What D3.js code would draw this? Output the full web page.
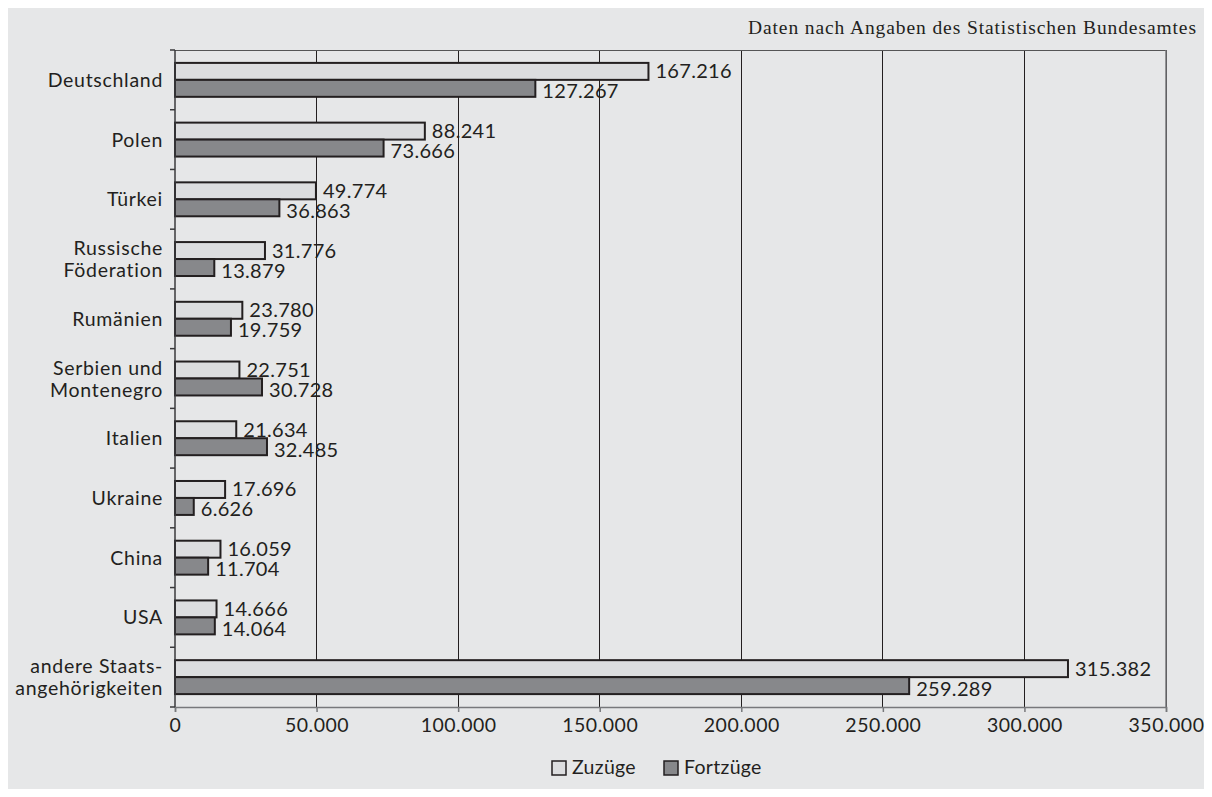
<!DOCTYPE html>
<html>
<head>
<meta charset="utf-8">
<script src="https://cdn.jsdelivr.net/npm/d3@7"></script>
<style>
  html, body { margin: 0; padding: 0; background: #ffffff; }
  svg { display: block; }
  text { fill: #231f20; }
</style>
</head>
<body>
<svg id="chart" width="1212" height="797"></svg>
<script>
// Zu- und Fortzüge nach Staatsangehörigkeit
const categories = [
  ["Deutschland"],
  ["Polen"],
  ["Türkei"],
  ["Russische", "Föderation"],
  ["Rumänien"],
  ["Serbien und", "Montenegro"],
  ["Italien"],
  ["Ukraine"],
  ["China"],
  ["USA"],
  ["andere Staats-", "angehörigkeiten"]
];
const zuzuege  = [167216, 88241, 49774, 31776, 23780, 22751, 21634, 17696, 16059, 14666, 315382];
const fortzuege = [127267, 73666, 36863, 13879, 19759, 30728, 32485, 6626, 11704, 14064, 259289];
const seriesNames = ["Zuzüge", "Fortzüge"];
const seriesValues = [zuzuege, fortzuege];
const xTicks = [0, 50000, 100000, 150000, 200000, 250000, 300000, 350000];
const sourceNote = "Daten nach Angaben des Statistischen Bundesamtes";

const fills = ["#dcdddf", "#87888b"];
const ink = "#231f20";
const sans = "Lato, 'Open Sans', sans-serif";
const serif = "'Liberation Serif', 'DejaVu Serif', serif";
const weight = 400;

const de = d3.formatLocale({ decimal: ",", thousands: ".", grouping: [3], currency: ["", " €"] });
const fmt = de.format(",d");

const svg = d3.select("#chart");

// panel background
svg.append("rect").attr("x", 8).attr("y", 8).attr("width", 1196).attr("height", 781).attr("fill", "#e6e7e8");

const plot = { left: 175, right: 1166, top: 50, bottom: 707 };

const x = d3.scaleLinear().domain([0, 350000]).range([plot.left, plot.right]);
const keys = categories.map((c, i) => i);
const y = d3.scaleBand().domain(keys).range([plot.top, plot.bottom]).padding(0);
const ySub = d3.scaleBand().domain([0, 1]).range([0, y.bandwidth()]).paddingInner(0).paddingOuter(0.76);

// source note
svg.append("text")
  .attr("x", 1196).attr("y", 34)
  .attr("text-anchor", "end")
  .attr("textLength", 448).attr("lengthAdjust", "spacing")
  .style("font-family", serif).style("font-size", "19.5px")
  .text(sourceNote);

// vertical gridlines
svg.append("g").selectAll("line")
  .data(xTicks.slice(1))
  .join("line")
  .attr("x1", d => x(d)).attr("x2", d => x(d))
  .attr("y1", plot.top).attr("y2", plot.bottom)
  .attr("stroke", ink).attr("stroke-width", 1).attr("shape-rendering", "crispEdges");

// top border
svg.append("line")
  .attr("x1", plot.left).attr("x2", plot.right)
  .attr("y1", plot.top).attr("y2", plot.top)
  .attr("stroke", "#555556").attr("stroke-width", 1).attr("shape-rendering", "crispEdges");

// bars
const groups = svg.append("g").selectAll("g")
  .data(keys)
  .join("g")
  .attr("transform", d => `translate(0,${y(d)})`);

groups.selectAll("rect")
  .data(i => seriesValues.map((vals, s) => ({ s, v: vals[i] })))
  .join("rect")
  .attr("x", x(0))
  .attr("y", d => ySub(d.s))
  .attr("width", d => x(d.v) - x(0))
  .attr("height", ySub.bandwidth())
  .attr("fill", d => fills[d.s])
  .attr("stroke", ink).attr("stroke-width", 2);

groups.selectAll("text")
  .data(i => seriesValues.map((vals, s) => ({ s, v: vals[i] })))
  .join("text")
  .attr("x", d => x(d.v) + 7)
  .attr("y", d => ySub(d.s) + ySub.bandwidth() / 2 + (d.s === 0 ? 7 : 10))
  .style("font-family", sans).style("font-size", "20px").style("font-weight", weight)
  .style("letter-spacing", "0.3px")
  .text(d => fmt(d.v));

// bottom axis
const xAxis = d3.axisBottom(x).tickValues(xTicks).tickSize(5).tickPadding(6).tickFormat(d => fmt(d));
const gx = svg.append("g").attr("transform", `translate(0,${plot.bottom})`).call(xAxis);
gx.select(".domain").attr("stroke", "#77787b").attr("stroke-width", 1.5);
gx.selectAll(".tick line").attr("stroke", "#77787b").attr("stroke-width", 1.5);
gx.selectAll(".tick text").style("font-family", sans).style("font-size", "19.5px")
  .style("font-weight", weight).style("letter-spacing", "0.5px").attr("fill", ink);

// right border
svg.append("line")
  .attr("x1", plot.right).attr("x2", plot.right)
  .attr("y1", plot.top).attr("y2", plot.bottom)
  .attr("stroke", "#77787b").attr("stroke-width", 1.5);

// left axis with ticks at category boundaries
const gy = svg.append("g");
gy.append("line")
  .attr("x1", plot.left).attr("x2", plot.left)
  .attr("y1", plot.top).attr("y2", plot.bottom)
  .attr("stroke", "#3a3a3c").attr("stroke-width", 1.5);
gy.selectAll("line.tick")
  .data(d3.range(categories.length + 1))
  .join("line").attr("class", "tick")
  .attr("x1", plot.left - 5).attr("x2", plot.left)
  .attr("y1", i => plot.top + i * y.step()).attr("y2", i => plot.top + i * y.step())
  .attr("stroke", "#3a3a3c").attr("stroke-width", 1.5);

// category labels
const lineH = 22;
gy.selectAll("text")
  .data(keys)
  .join("text")
  .attr("text-anchor", "end")
  .style("font-family", sans).style("font-size", "19.5px").style("font-weight", weight)
  .style("letter-spacing", "0.7px")
  .each(function (i) {
    const lines = categories[i];
    const cy = y(i) + y.bandwidth() / 2;
    const t = d3.select(this);
    lines.forEach((ln, k) => {
      t.append("tspan")
        .attr("x", 163)
        .attr("y", cy + 7 + (k - (lines.length - 1) / 2) * lineH)
        .text(ln);
    });
  });

// legend
const legend = svg.append("g").attr("transform", "translate(552,761)");
const legX = [0, 112];
seriesNames.forEach((name, s) => {
  const g = legend.append("g").attr("transform", `translate(${legX[s]},0)`);
  g.append("rect").attr("x", 0).attr("y", 0).attr("width", 14).attr("height", 14)
    .attr("fill", fills[s]).attr("stroke", ink).attr("stroke-width", 1.5);
  g.append("text").attr("x", 20).attr("y", 13)
    .style("font-family", sans).style("font-size", "19.5px").style("font-weight", weight)
    .style("letter-spacing", "0.3px")
    .text(name);
});
</script>
</body>
</html>
